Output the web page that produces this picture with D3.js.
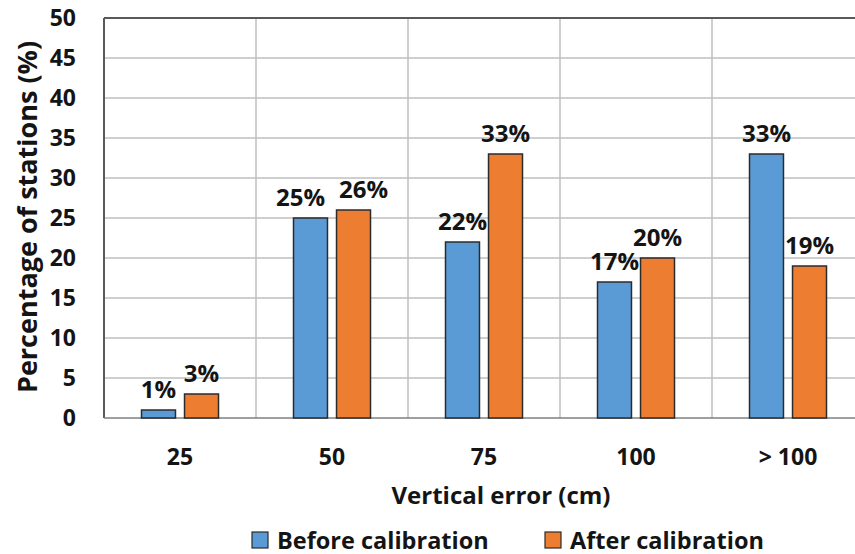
<!DOCTYPE html>
<html>
<head>
<meta charset="utf-8">
<script src="https://cdn.jsdelivr.net/npm/d3@7"></script>
<style>
  html, body { margin: 0; padding: 0; background: #fff; }
  svg { display: block; }
  text { font-family: "Open Sans", Lato, sans-serif; font-weight: bold; fill: #141414; }
</style>
</head>
<body>
<svg id="chart" width="855" height="554"></svg>
<script>
// Share of stations per vertical-error bin, before and after calibration
const categories = ["25", "50", "75", "100", "> 100"];
const seriesNames = ["Before calibration", "After calibration"];
const beforeValues = [1, 25, 22, 17, 33];
const afterValues = [3, 26, 33, 20, 19];
const yTicks = [0, 5, 10, 15, 20, 25, 30, 35, 40, 45, 50];
const colors = ["#5b9bd5", "#ed7d31"];

const svg = d3.select("#chart");
const plotLeft = 104, plotTop = 18, plotBottom = 418;
const bandWidth = 152;
const plotRight = 855;
// labels of nearly equal neighbouring bars are pushed apart so they do not collide
const labelSpread = 10;

const x = d3.scaleBand()
  .domain(categories)
  .range([plotLeft, plotLeft + bandWidth * categories.length])
  .padding(0);

const xInner = d3.scaleBand()
  .domain(seriesNames)
  .range([37.5, 114.5])
  .paddingInner(0.21);

const y = d3.scaleLinear().domain([0, 50]).range([plotBottom, plotTop]);

// horizontal gridlines
svg.append("g")
  .selectAll("line")
  .data(yTicks.filter(t => t > 0 && t < 50))
  .join("line")
  .attr("x1", plotLeft).attr("x2", plotRight)
  .attr("y1", d => y(d)).attr("y2", d => y(d))
  .attr("stroke", "#bfbfbf").attr("stroke-width", 1.5);

// vertical gridlines between categories
svg.append("g")
  .selectAll("line")
  .data(categories.slice(1))
  .join("line")
  .attr("x1", d => x(d)).attr("x2", d => x(d))
  .attr("y1", plotTop).attr("y2", plotBottom)
  .attr("stroke", "#bfbfbf").attr("stroke-width", 1.5);

// plot frame
svg.append("line")
  .attr("x1", plotLeft).attr("x2", plotRight).attr("y1", plotTop).attr("y2", plotTop)
  .attr("stroke", "#595959").attr("stroke-width", 2);
svg.append("line")
  .attr("x1", plotLeft).attr("x2", plotLeft).attr("y1", plotTop).attr("y2", plotBottom)
  .attr("stroke", "#595959").attr("stroke-width", 2);
svg.append("line")
  .attr("x1", plotLeft).attr("x2", plotRight).attr("y1", plotBottom).attr("y2", plotBottom)
  .attr("stroke", "#7f7f7f").attr("stroke-width", 1.5);

// bars
const rows = categories.map((c, i) => ({
  cat: c,
  vals: [beforeValues[i], afterValues[i]]
}));

const groups = svg.append("g")
  .selectAll("g")
  .data(rows)
  .join("g")
  .attr("transform", d => `translate(${x(d.cat)},0)`);

groups.selectAll("rect")
  .data(d => d.vals.map((v, k) => ({ v, k })))
  .join("rect")
  .attr("x", d => xInner(seriesNames[d.k]))
  .attr("width", xInner.bandwidth())
  .attr("y", d => y(d.v))
  .attr("height", d => y(0) - y(d.v))
  .attr("fill", d => colors[d.k])
  .attr("stroke", "#2b2b2b")
  .attr("stroke-width", 1.5);

groups.selectAll("text.val")
  .data(d => d.vals.map((v, k) => ({ v, k, close: Math.abs(d.vals[0] - d.vals[1]) <= 2 && d.vals[0] > 5 })))
  .join("text")
  .attr("class", "val")
  .attr("x", d => xInner(seriesNames[d.k]) + xInner.bandwidth() / 2
    + (d.close ? (d.k === 0 ? -labelSpread : labelSpread) : 0))
  .attr("y", d => y(d.v) - 12)
  .attr("text-anchor", "middle")
  .attr("font-size", 24)
  .text(d => d.v + "%");

// y axis tick labels
svg.append("g")
  .selectAll("text")
  .data(yTicks)
  .join("text")
  .attr("x", 76)
  .attr("y", d => y(d))
  .attr("dy", "0.36em")
  .attr("text-anchor", "end")
  .attr("font-size", 23)
  .text(d => d);

// x axis tick labels
svg.append("g")
  .selectAll("text")
  .data(categories)
  .join("text")
  .attr("x", d => x(d) + bandWidth / 2)
  .attr("y", 465)
  .attr("text-anchor", "middle")
  .attr("font-size", 23)
  .text(d => d);

// axis titles
svg.append("text")
  .attr("x", 501).attr("y", 504)
  .attr("text-anchor", "middle")
  .attr("font-size", 24)
  .text("Vertical error (cm)");

svg.append("text")
  .attr("transform", "translate(37,217) rotate(-90)")
  .attr("text-anchor", "middle")
  .attr("font-size", 27)
  .text("Percentage of stations (%)");

// legend
const legendX = [252, 545];
const legend = svg.append("g")
  .selectAll("g")
  .data(seriesNames)
  .join("g")
  .attr("transform", (d, i) => `translate(${legendX[i]},532)`);

legend.append("rect")
  .attr("width", 16).attr("height", 16)
  .attr("fill", (d, i) => colors[i])
  .attr("stroke", "#2b2b2b").attr("stroke-width", 1.2);

legend.append("text")
  .attr("x", 25).attr("y", 16.5)
  .attr("font-size", 23.5)
  .text(d => d);
</script>
</body>
</html>
